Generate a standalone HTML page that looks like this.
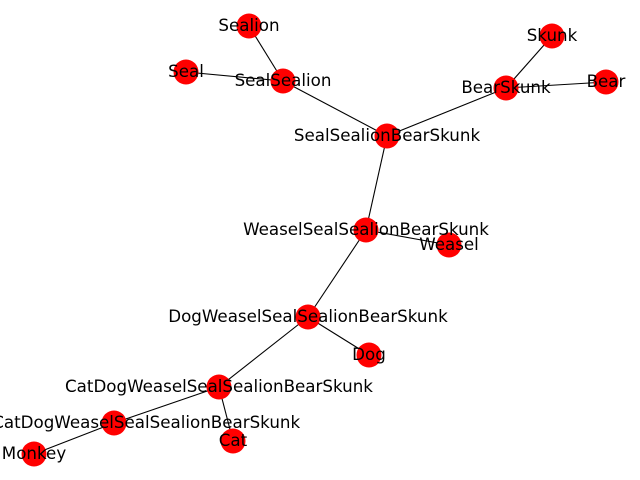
<!DOCTYPE html>
<html><head><meta charset="utf-8"><style>body{margin:0;background:#fff}svg{display:block}</style></head><body>
<svg width="640" height="480" xmlns="http://www.w3.org/2000/svg">
<g stroke="#000" stroke-width="1.1">
<line x1="249" y1="26" x2="283" y2="81"/>
<line x1="186" y1="72" x2="283" y2="81"/>
<line x1="283" y1="81" x2="387" y2="136"/>
<line x1="552" y1="36" x2="506" y2="88"/>
<line x1="606" y1="82" x2="506" y2="88"/>
<line x1="506" y1="88" x2="387" y2="136"/>
<line x1="387" y1="136" x2="366" y2="230"/>
<line x1="449" y1="245" x2="366" y2="230"/>
<line x1="366" y1="230" x2="308" y2="317"/>
<line x1="369" y1="355" x2="308" y2="317"/>
<line x1="308" y1="317" x2="219" y2="387"/>
<line x1="233" y1="441" x2="219" y2="387"/>
<line x1="219" y1="387" x2="114" y2="423"/>
<line x1="34" y1="454" x2="114" y2="423"/>
</g>
<g fill="#f00">
<circle cx="249" cy="26" r="12.5"/><circle cx="186" cy="72" r="12.5"/><circle cx="283" cy="81" r="12.5"/>
<circle cx="552" cy="36" r="12.5"/><circle cx="506" cy="88" r="12.5"/><circle cx="606" cy="82" r="12.5"/>
<circle cx="387" cy="136" r="12.5"/><circle cx="366" cy="230" r="12.5"/><circle cx="449" cy="245" r="12.5"/>
<circle cx="308" cy="317" r="12.5"/><circle cx="369" cy="355" r="12.5"/><circle cx="219" cy="387" r="12.5"/>
<circle cx="114" cy="423" r="12.5"/><circle cx="233" cy="441" r="12.5"/><circle cx="34" cy="454" r="12.5"/>
</g>
<g font-family="DejaVu Sans, sans-serif" font-size="16.7" text-anchor="middle" dominant-baseline="central" fill="#000">
<text x="249" y="25">Sealion</text><text x="186" y="71">Seal</text><text x="283" y="80">SealSealion</text>
<text x="552" y="35">Skunk</text><text x="506" y="87">BearSkunk</text><text x="606" y="81">Bear</text>
<text x="387" y="135">SealSealionBearSkunk</text><text x="366" y="229">WeaselSealSealionBearSkunk</text>
<text x="449" y="244">Weasel</text><text x="308" y="316">DogWeaselSealSealionBearSkunk</text>
<text x="369" y="354">Dog</text><text x="219" y="386">CatDogWeaselSealSealionBearSkunk</text>
<text x="114" y="422">MonkeyCatDogWeaselSealSealionBearSkunk</text>
<text x="233" y="440">Cat</text><text x="34" y="453">Monkey</text>
</g>
</svg>
</body></html>
